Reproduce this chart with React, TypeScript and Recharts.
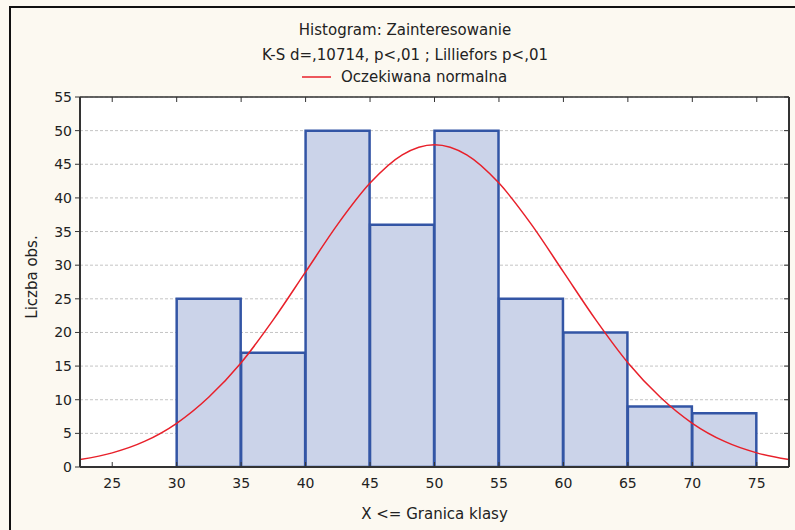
import React from 'react';
import { ComposedChart, Bar, Line, XAxis, YAxis, CartesianGrid, Legend } from 'recharts';

const binMidpoints = [32.5, 37.5, 42.5, 47.5, 52.5, 57.5, 62.5, 67.5, 72.5];
const binCounts = [25, 17, 50, 36, 50, 25, 20, 9, 8];

const curveX = [22.5, 25, 27.5, 30, 32.5, 35, 37.5, 40, 42.5, 45, 47.5, 50, 52.5, 55, 57.5, 60, 62.5, 65, 67.5, 70, 72.5, 75, 77.5];
const curveY = [1.1, 2.1, 3.8, 6.5, 10.4, 15.5, 21.9, 29.0, 36.1, 42.2, 46.4, 47.9, 46.4, 42.2, 36.1, 29.0, 21.9, 15.5, 10.4, 6.5, 3.8, 2.1, 1.1];

const xTicks = [25, 30, 35, 40, 45, 50, 55, 60, 65, 70, 75];
const yTicks = [0, 5, 10, 15, 20, 25, 30, 35, 40, 45, 50, 55];
const xDomain = [22.5, 77.5];
const yDomain = [0, 55];

const titleLine1 = 'Histogram: Zainteresowanie';
const titleLine2 = 'K-S d=,10714, p<,01 ; Lilliefors p<,01';
const curveName = 'Oczekiwana normalna';
const xLabel = 'X <= Granica klasy';
const yLabel = 'Liczba obs.';

const histData = binMidpoints.map((x, i) => ({ x, count: binCounts[i] }));
const curveData = curveX.map((x, i) => ({ x, y: curveY[i] }));

const FONT = '"DejaVu Sans", Arial, sans-serif';
const TEXT = '#222';
const AXIS = '#333';

const NoTick = () => <g />;

const LegendContent = (props: any) => {
  const item = (props.payload || []).find((p: any) => p.value === curveName) || { value: curveName, color: '#e8202a' };
  return (
    <svg width={795} height={20} style={{ display: 'block' }}>
      <line x1={302} x2={331} y1={10} y2={10} stroke={item.color} strokeWidth={1.5} />
      <text x={341} y={15} fontSize={15} fontFamily={FONT} fill={TEXT}>{item.value}</text>
    </svg>
  );
};

const YLabel = (props: any) => {
  const vb = props.viewBox || { x: 0, y: 0, width: 0, height: 0 };
  const cx = 32;
  const cy = vb.y + vb.height / 2 - 5;
  return (
    <text x={cx} y={cy} transform={`rotate(-90, ${cx}, ${cy})`} textAnchor="middle" dominantBaseline="central" fontSize={15} fontFamily={FONT} fill={TEXT}>
      {yLabel}
    </text>
  );
};

export default function App() {
  return (
    <div style={{ position: 'absolute', left: 0, top: 0, width: 795, height: 530, background: '#fcf9f1', overflow: 'hidden' }}>
      <div style={{ position: 'absolute', left: 9, top: 6, width: 800, height: 540, borderTop: '2px solid #111', borderLeft: '2px solid #111' }} />
      <svg width={795} height={70} style={{ position: 'absolute', left: 0, top: 0 }}>
        <text x={405} y={35} textAnchor="middle" fontSize={15} fontFamily={FONT} fill={TEXT}>{titleLine1}</text>
        <text x={405} y={59.5} textAnchor="middle" fontSize={15} fontFamily={FONT} fill={TEXT}>{titleLine2}</text>
      </svg>
      <div style={{ position: 'absolute', left: 0, top: 0 }}>
        <ComposedChart
          width={795}
          height={530}
          data={histData}
          margin={{ top: 76, right: 5, bottom: 0, left: 0 }}
          barCategoryGap={0}
          barGap={0}
        >
          <CartesianGrid horizontal vertical={false} fill="#ffffff" stroke="#c4c4c4" strokeDasharray="3 2" />
          <XAxis
            xAxisId={0}
            type="number"
            dataKey="x"
            domain={xDomain}
            ticks={xTicks}
            interval={0}
            allowDataOverflow
            height={63}
            tickSize={-5}
            tickMargin={16}
            axisLine={{ stroke: AXIS, strokeWidth: 2 }}
            tickLine={{ stroke: AXIS }}
            tick={{ fill: TEXT, fontSize: 14, fontFamily: FONT }}
            label={{ value: xLabel, position: 'insideBottom', offset: 11, fill: TEXT, fontSize: 15, fontFamily: FONT }}
          />
          <XAxis
            xAxisId="top"
            orientation="top"
            type="number"
            dataKey="x"
            domain={xDomain}
            ticks={xTicks}
            interval={0}
            allowDataOverflow
            height={1}
            tickSize={-5}
            tick={<NoTick />}
            axisLine={{ stroke: AXIS, strokeWidth: 1.5 }}
            tickLine={{ stroke: AXIS }}
          />
          <YAxis
            yAxisId={0}
            type="number"
            domain={yDomain}
            ticks={yTicks}
            interval={0}
            allowDataOverflow
            width={80}
            tickSize={5}
            tickMargin={3}
            axisLine={{ stroke: AXIS, strokeWidth: 2 }}
            tickLine={{ stroke: AXIS }}
            tick={{ fill: TEXT, fontSize: 14, fontFamily: FONT }}
            label={<YLabel />}
          />
          <YAxis
            yAxisId="right"
            orientation="right"
            type="number"
            domain={yDomain}
            ticks={yTicks}
            interval={0}
            allowDataOverflow
            width={1}
            tickSize={-5}
            tick={<NoTick />}
            axisLine={{ stroke: AXIS, strokeWidth: 2 }}
            tickLine={{ stroke: AXIS }}
          />
          <Legend
            verticalAlign="top"
            height={20}
            content={<LegendContent />}
            wrapperStyle={{ position: 'absolute', top: 67, left: 0, width: 795, height: 20 }}
          />
          <Bar
            xAxisId={0}
            yAxisId={0}
            dataKey="count"
            fill="#cbd3e9"
            stroke="#3355a5"
            strokeWidth={2.5}
            isAnimationActive={false}
            legendType="none"
          />
          <Line
            xAxisId="top"
            yAxisId={0}
            data={curveData}
            dataKey="y"
            name={curveName}
            type="monotone"
            stroke="#e8202a"
            strokeWidth={1.5}
            dot={false}
            activeDot={false}
            isAnimationActive={false}
          />
        </ComposedChart>
      </div>
    </div>
  );
}
